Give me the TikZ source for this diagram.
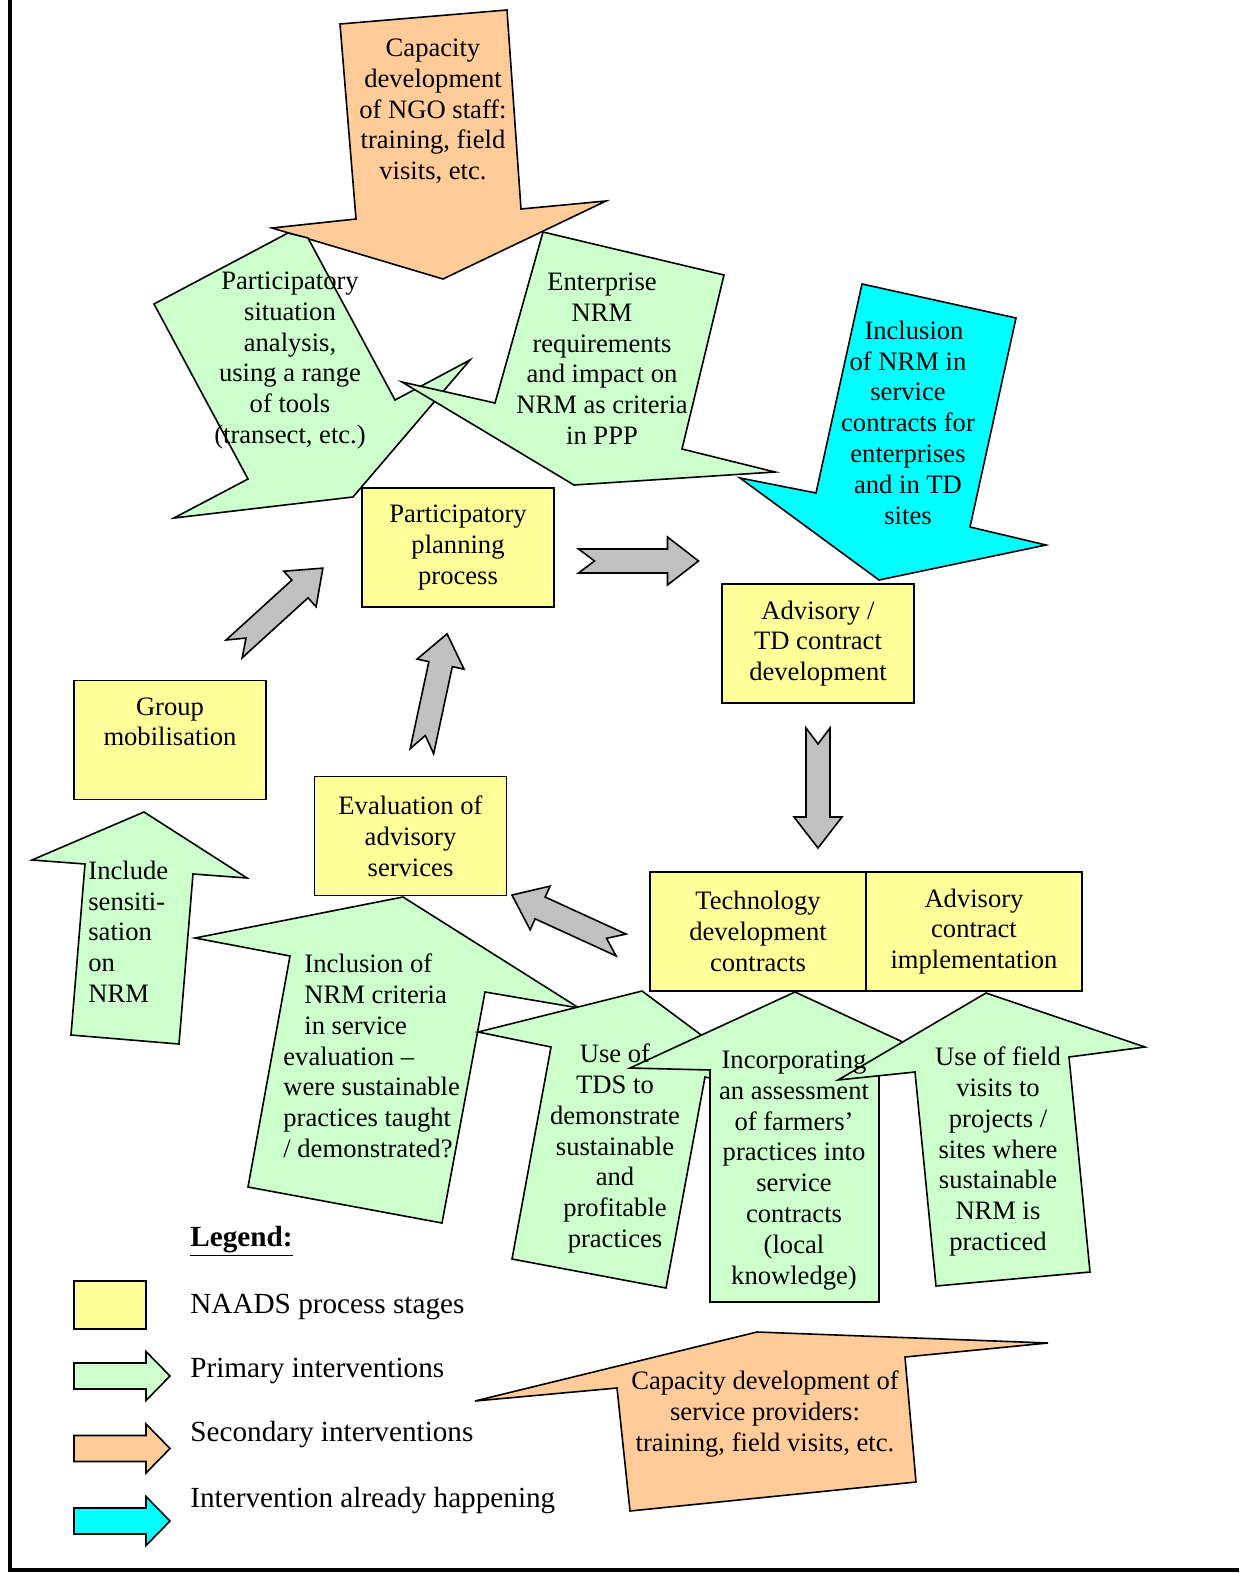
\documentclass[tikz,border=0pt]{standalone}
\usepackage{fontspec}
\setmainfont{Liberation Serif}
\usepackage{tikz}
\usetikzlibrary{positioning, calc}
\definecolor{stageyellow}{RGB}{255,255,153}
\definecolor{primgreen}{RGB}{204,255,204}
\definecolor{secorange}{RGB}{255,204,153}
\definecolor{nowcyan}{RGB}{0,255,255}
\definecolor{flowgray}{RGB}{192,192,192}

\begin{document}
\begin{tikzpicture}[x=0.5pt, y=0.5pt,
    every node/.style={font=\fontsize{13.3}{15.4}\selectfont},
    stage/.style={draw, line width=0.8pt, fill=stageyellow, minimum width=96pt,
                  minimum height=59.5pt, inner sep=0pt, outer sep=0pt, align=center},
    block/.style={draw, line width=0.8pt},
    blocktext/.style={align=center, inner sep=0pt, anchor=north},
    keytext/.style={font=\fontsize{14.6}{17}\selectfont, inner sep=0pt, anchor=base west},
    flowarrow/.pic={
        \draw[block, fill=flowgray] (-60,12) -- (29,12) -- (29,24) -- (60,0)
            -- (29,-24) -- (29,-12) -- (-60,-12) -- (-44,0) -- cycle;
    }]
    \useasboundingbox (0,0) rectangle (1239,-1573);

    % Page frame (left and bottom rule)
    \draw[line width=2pt] (9.5,0) -- (9.5,-1570) -- (1239,-1570);

    % Secondary intervention: NGO staff
    \draw[block, fill=secorange] (340,-24) -- (507,-10) -- (521,-209) -- (606,-201)
        -- (443,-279) -- (272,-228) -- (356,-219) -- cycle;

    % Primary interventions into the planning process
    \draw[block, fill=primgreen] (288,-233) -- (154,-304) -- (248,-479) -- (174,-518)
        -- (353,-497) -- (470,-360) -- (395,-400) -- (308,-238) -- cycle;
    \draw[block, fill=primgreen] (543,-232) -- (724,-275) -- (682,-449) -- (775,-472)
        -- (574,-485) -- (402,-382) -- (495,-403) -- cycle;

    % Intervention already happening
    \draw[block, fill=nowcyan] (862,-284) -- (1016,-318) -- (970,-527) -- (1046,-545)
        -- (879,-580) -- (740,-478) -- (816,-493) -- cycle;

    % NAADS process stages
    \node[stage] (ppp) at (458,-547.5) {Participatory\\planning\\process};
    \node[stage] (adv) at (818,-643.5) {Advisory /\\TD contract\\development};
    \node[stage, text depth=18.3pt] (grp) at (170,-740) {Group\\mobilisation};
    \node[stage] (eval) at (410.5,-836) {Evaluation of\\advisory\\services};
    \node[stage, minimum width=108pt] (tdc) at (758,-931.5)
        {Technology\\development\\contracts};
    \node[stage, minimum width=108pt, right=0pt of tdc] (aci)
        {Advisory\\contract\\implementation};

    % Primary interventions at the lower stages
    \draw[block, fill=primgreen] (144,-812) -- (32,-860) -- (85,-864) -- (71,-1035)
        -- (179,-1044) -- (193,-874) -- (247,-878) -- cycle;
    \draw[block, fill=primgreen] (403,-897) -- (195,-938) -- (290,-956) -- (248,-1187)
        -- (442,-1223) -- (485,-992) -- (579,-1008) -- cycle;
    \draw[block, fill=primgreen] (642,-991) -- (778,-1092) -- (705,-1077) -- (666,-1288)
        -- (512,-1259) -- (551,-1047) -- (478,-1032) -- cycle;
    \draw[block, fill=primgreen] (795,-992) -- (961,-1069) -- (879,-1071) -- (879,-1302)
        -- (710,-1302) -- (710,-1070) -- (630,-1068) -- cycle;
    \draw[block, fill=primgreen] (986,-993) -- (1145,-1047) -- (1069,-1057) -- (1090,-1272)
        -- (936,-1286) -- (915,-1072) -- (838,-1080) -- cycle;

    % Secondary intervention: service providers
    \draw[block, fill=secorange] (757,-1332) -- (1048,-1343) -- (905,-1357) -- (916,-1482)
        -- (630,-1511) -- (617,-1388) -- (475,-1401) -- cycle;

    % Process flow between the stages
    \pic[rotate=42.3] at (278.5,-608.5) {flowarrow};
    \pic[rotate=77.9] at (434.5,-692.5) {flowarrow};
    \pic at (638.5,-561) {flowarrow};
    \pic[rotate=-90] at (818,-788) {flowarrow};
    \pic[rotate=155.4] at (566.5,-920) {flowarrow};

    % Intervention texts
    \node[blocktext] (capngo) at (433,-38.5)
        {Capacity\\development\\of NGO staff:\\training, field\\visits, etc.};
    \node[blocktext] (psa) at (290,-271.5)
        {Participatory\\situation\\analysis,\\using a range\\of tools\\(transect, etc.)};
    \node[blocktext] (ent) at (602,-272.5)
        {Enterprise\\NRM\\requirements\\and impact on\\NRM as criteria\\in PPP};
    \node[blocktext] (incl) at (908,-320.5)
        {\hspace*{6pt}Inclusion\\of NRM in\\service\\contracts for\\enterprises\\and in TD\\sites};
    \node[blocktext, anchor=north west, align=left] (sens) at (88,-860.5)
        {Include\\sensiti-\\sation\\on\\NRM};
    \node[blocktext, anchor=north west, align=left] (crit) at (283,-953.5)
        {\hspace*{10.5pt}Inclusion of\\\hspace*{10.5pt}NRM criteria\\\hspace*{10.5pt}in service\\
         evaluation --\\were sustainable\\practices taught\\/ demonstrated?};
    \node[blocktext] (tds) at (615,-1043.5)
        {Use of\\TDS to\\demonstrate\\sustainable\\and\\profitable\\practices};
    \node[blocktext] (incorp) at (794,-1050.5)
        {Incorporating\\an assessment\\of farmers’\\practices into\\service\\contracts\\(local\\knowledge)};
    \node[blocktext] (field) at (998,-1046.5)
        {Use of field\\visits to\\projects /\\sites where\\sustainable\\NRM is\\practiced};
    \node[blocktext] (capsp) at (765,-1370.5)
        {Capacity development of\\service providers:\\training, field visits, etc.};

    % Legend
    \node[keytext, font=\fontsize{14.6}{17}\selectfont\bfseries] (legend) at (190,-1246.5)
        {\underline{Legend:}};
    \node[draw, line width=0.8pt, fill=stageyellow, minimum width=36pt, minimum height=24pt,
          inner sep=0pt, outer sep=0pt, anchor=north west] (keystage) at (74,-1281) {};
    \foreach \col/\yc in {primgreen/1376, secorange/1448.5, nowcyan/1521} {
        \draw[block, fill=\col] (74,{-\yc+13}) -- (146,{-\yc+13}) -- (146,{-\yc+24.5})
            -- (170,-\yc) -- (146,{-\yc-24.5}) -- (146,{-\yc-13}) -- (74,{-\yc-13}) -- cycle;
    }
    \node[keytext] (keyprim) at (190,-1313.3) {NAADS process stages};
    \node[keytext] (keysec) at (190,-1377.3) {Primary interventions};
    \node[keytext] (keyhapp) at (190,-1441.3) {Secondary interventions};
    \node[keytext] (keynow) at (190,-1507.3) {Intervention already happening};
\end{tikzpicture}
\end{document}
